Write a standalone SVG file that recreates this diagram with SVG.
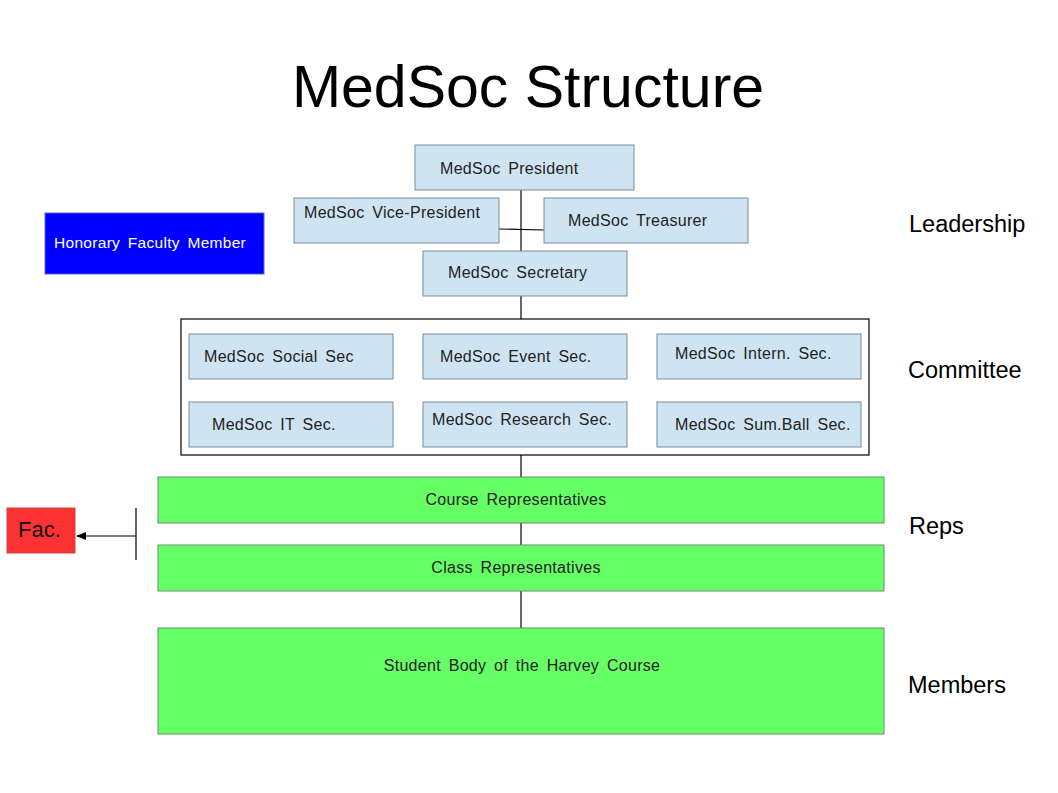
<svg xmlns="http://www.w3.org/2000/svg" width="1058" height="793" viewBox="0 0 1058 793">
<defs>
<style>
text{font-family:"Liberation Sans",Arial,sans-serif;fill:#222;}
.b{fill:#cfe4f3;stroke:#7a8a99;stroke-width:1;}
.g{fill:#66ff66;stroke:#6a8a6a;stroke-width:1;}
.t{font-size:16px;letter-spacing:0.3px;word-spacing:3px;}
.s{font-size:23.5px;fill:#000;}
.l{stroke:#000;stroke-width:1.2;fill:none;}
</style>
<marker id="ah" markerWidth="10" markerHeight="8" refX="9" refY="4" orient="auto" markerUnits="userSpaceOnUse">
<path d="M0,0 L10,4 L0,8 Z" fill="#000"/>
</marker>
</defs>
<rect width="1058" height="793" fill="#fff"/>
<text x="528" y="107" font-size="59" text-anchor="middle" style="fill:#000">MedSoc Structure</text>

<g id="connectors">
<line class="l" x1="521" y1="190" x2="521" y2="251"/>
<line class="l" x1="499" y1="229" x2="544" y2="230"/>
<line class="l" x1="521" y1="296" x2="521" y2="319"/>
<line class="l" x1="521" y1="455" x2="521" y2="477"/>
<line class="l" x1="521" y1="523" x2="521" y2="545"/>
<line class="l" x1="521" y1="591" x2="521" y2="628"/>
<line class="l" x1="136" y1="508" x2="136" y2="560"/>
<line class="l" x1="136" y1="536" x2="77" y2="536" stroke-width="2" marker-end="url(#ah)"/>
</g>

<g id="president"><rect class="b" x="415" y="145" width="219" height="45"/><text class="t" x="440" y="174">MedSoc President</text></g>
<g id="vice"><rect class="b" x="294" y="198" width="205" height="45"/><text class="t" x="304" y="218">MedSoc Vice-President</text></g>
<g id="treasurer"><rect class="b" x="544" y="198" width="204" height="45"/><text class="t" x="568" y="226">MedSoc Treasurer</text></g>
<g id="secretary"><rect class="b" x="423" y="251" width="204" height="45"/><text class="t" x="448" y="278">MedSoc Secretary</text></g>

<g id="honorary"><rect x="45" y="213" width="219" height="61" fill="#0000ff" stroke="#5566cc"/><text class="t" x="54" y="248" style="fill:#fff;font-size:15.5px">Honorary Faculty Member</text></g>

<g id="committee">
<rect x="181" y="319" width="688" height="136" fill="#fff" stroke="#000" stroke-width="1.2"/>
</g>
<g id="social"><rect class="b" x="189" y="334" width="204" height="45"/><text class="t" x="204" y="362">MedSoc Social Sec</text></g>
<g id="event"><rect class="b" x="423" y="334" width="204" height="45"/><text class="t" x="440" y="362">MedSoc Event Sec.</text></g>
<g id="intern"><rect class="b" x="657" y="334" width="204" height="45"/><text class="t" x="675" y="359">MedSoc Intern. Sec.</text></g>
<g id="it"><rect class="b" x="189" y="402" width="204" height="45"/><text class="t" x="212" y="430">MedSoc IT Sec.</text></g>
<g id="research"><rect class="b" x="423" y="402" width="204" height="45"/><text class="t" x="432" y="425">MedSoc Research Sec.</text></g>
<g id="sumball"><rect class="b" x="657" y="402" width="204" height="45"/><text class="t" x="675" y="430">MedSoc Sum.Ball Sec.</text></g>

<g id="course"><rect class="g" x="158" y="477" width="726" height="46"/><text class="t" x="516" y="505" text-anchor="middle">Course Representatives</text></g>
<g id="class"><rect class="g" x="158" y="545" width="726" height="46"/><text class="t" x="516" y="573" text-anchor="middle">Class Representatives</text></g>
<g id="students"><rect class="g" x="158" y="628" width="726" height="106"/><text class="t" x="522" y="671" text-anchor="middle">Student Body of the Harvey Course</text></g>

<g id="fac"><rect x="7" y="508" width="68" height="45" fill="#ff3333" stroke="#cc4444"/><text x="18" y="537" font-size="22" style="fill:#111">Fac.</text></g>

<g id="labels">
<text class="s" x="909" y="232">Leadership</text>
<text class="s" x="908" y="378">Committee</text>
<text class="s" x="909" y="534">Reps</text>
<text class="s" x="908" y="693">Members</text>
</g>
</svg>
